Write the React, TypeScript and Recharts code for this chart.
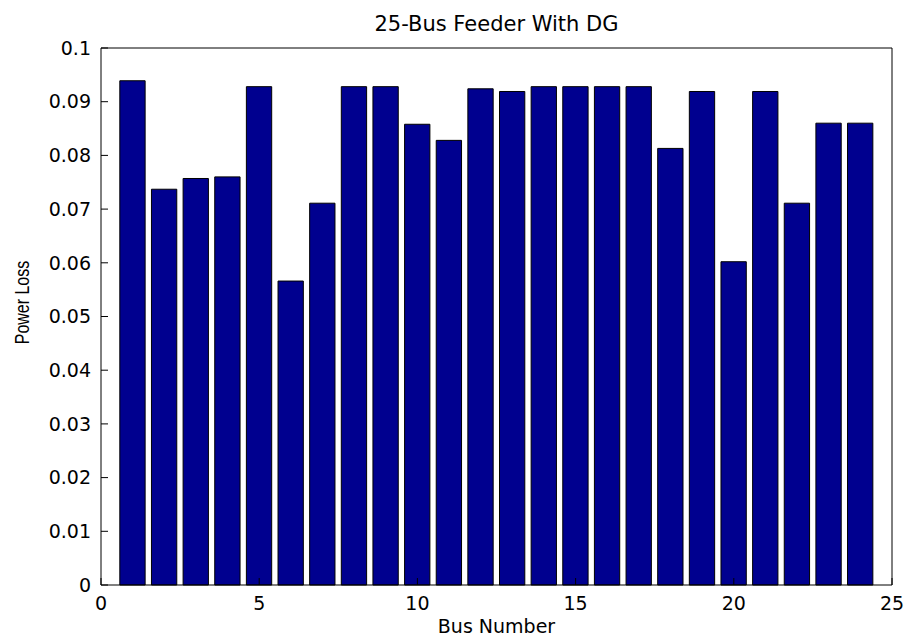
import { Bar, BarChart, XAxis, YAxis } from "recharts";

// values
const busNumbers = [1, 2, 3, 4, 5, 6, 7, 8, 9, 10, 11, 12, 13, 14, 15, 16, 17, 18, 19, 20, 21, 22, 23, 24];
const powerLoss = [
  0.0939, 0.0737, 0.0757, 0.076, 0.0928, 0.0566, 0.0711, 0.0928, 0.0928, 0.0858, 0.0828, 0.0924,
  0.0919, 0.0928, 0.0928, 0.0928, 0.0928, 0.0813, 0.0919, 0.0602, 0.0919, 0.0711, 0.086, 0.086,
];
const xTicks = [0, 5, 10, 15, 20, 25];
const yTicks = [0, 0.01, 0.02, 0.03, 0.04, 0.05, 0.06, 0.07, 0.08, 0.09, 0.1];

const chartData = busNumbers.map((bus, i) => ({ bus, loss: powerLoss[i] }));

const FONT = '"DejaVu Sans", sans-serif';
const WIDTH = 905;
const HEIGHT = 638;
const Y_AXIS_WIDTH = 101;
const margin = { top: 47, right: 12, left: 0, bottom: 0 };
const plotWidth = WIDTH - margin.left - margin.right - Y_AXIS_WIDTH - 1;
// matlab bar default: 80% of the unit spacing
const barSize = (plotWidth / 25) * 0.8;

const tickStyle = { fill: "#000", fontSize: 19, fontFamily: FONT };

const YLabel = ({ viewBox }: { viewBox?: { x: number; y: number; height: number } }) => {
  if (!viewBox) return null;
  const cx = viewBox.x + 29;
  const cy = viewBox.y + viewBox.height / 2 - 14;
  return (
    <text
      transform={`translate(${cx},${cy}) rotate(-90) scale(0.76,1)`}
      textAnchor="middle"
      fill="#000"
      fontSize={21}
      fontFamily='"Liberation Sans", Arial, sans-serif'
    >
      Power Loss
    </text>
  );
};

export default function App() {
  return (
    <div
      style={{
        position: "absolute",
        left: 0,
        top: 0,
        width: WIDTH,
        height: HEIGHT,
        background: "#fff",
        fontFamily: FONT,
      }}
    >
      <div
        style={{
          position: "absolute",
          left: Y_AXIS_WIDTH,
          top: 14,
          width: plotWidth,
          textAlign: "center",
          fontSize: 21,
          lineHeight: "21px",
          color: "#000",
        }}
      >
        25-Bus Feeder With DG
      </div>
      <BarChart width={WIDTH} height={HEIGHT} data={chartData} margin={margin}>
        <XAxis
          dataKey="bus"
          type="number"
          domain={[0, 25]}
          ticks={xTicks}
          interval={0}
          height={53}
          stroke="#000"
          tickSize={-7}
          tickMargin={19}
          tick={tickStyle}
          label={{
            value: "Bus Number",
            position: "insideBottom",
            offset: 5,
            fill: "#000",
            fontSize: 19,
            fontFamily: FONT,
          }}
        />
        <XAxis
          xAxisId="top"
          orientation="top"
          dataKey="bus"
          type="number"
          domain={[0, 25]}
          ticks={xTicks}
          interval={0}
          height={1}
          stroke="#000"
          tickSize={-7}
          tick={false}
        />
        <YAxis
          type="number"
          domain={[0, 0.1]}
          ticks={yTicks}
          interval={0}
          width={Y_AXIS_WIDTH}
          stroke="#000"
          tickSize={-7}
          tickMargin={17}
          tick={tickStyle}
          tickFormatter={(v: number) => String(v)}
          label={(props: any) => <YLabel viewBox={props.viewBox} />}
        />
        <YAxis
          yAxisId="right"
          orientation="right"
          type="number"
          domain={[0, 0.1]}
          ticks={yTicks}
          interval={0}
          width={1}
          stroke="#000"
          tickSize={-7}
          tick={false}
        />
        <Bar
          dataKey="loss"
          fill="#00008F"
          stroke="#000"
          strokeWidth={1}
          barSize={barSize}
          isAnimationActive={false}
        />
      </BarChart>
    </div>
  );
}
